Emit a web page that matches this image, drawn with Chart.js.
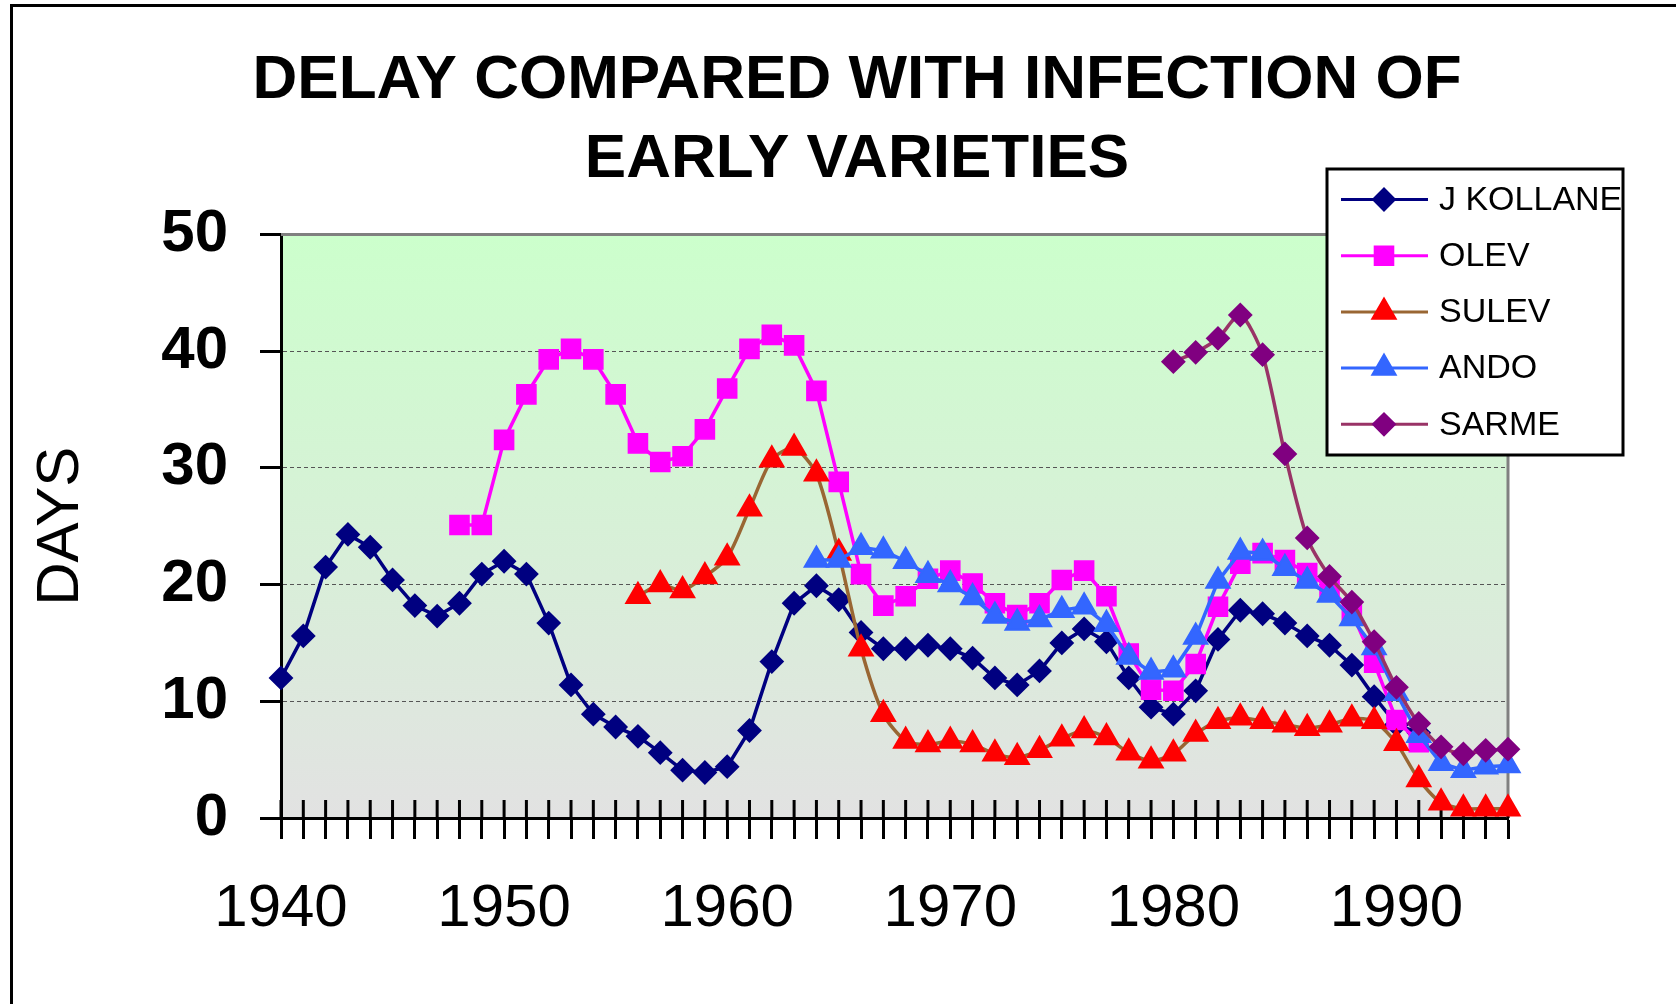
<!DOCTYPE html>
<html>
<head>
<meta charset="utf-8">
<title>Delay compared with infection of early varieties</title>
<script src="https://cdn.jsdelivr.net/npm/chart.js@4.4.1/dist/chart.umd.min.js"></script>
<style>
html, body { margin: 0; padding: 0; background: #fff; overflow: hidden; width: 1676px; height: 1004px; }
#frame { position: absolute; left: 10px; top: 4px; width: 1694px; height: 1006px; border: 3px solid #000; box-sizing: border-box; }
#frame canvas { display: block; }
</style>
</head>
<body>
<div id="frame"><canvas id="delayChart" width="1688" height="1000"></canvas></div>
<script>
var years = ['1940','1941','1942','1943','1944','1945','1946','1947','1948','1949',
             '1950','1951','1952','1953','1954','1955','1956','1957','1958','1959',
             '1960','1961','1962','1963','1964','1965','1966','1967','1968','1969',
             '1970','1971','1972','1973','1974','1975','1976','1977','1978','1979',
             '1980','1981','1982','1983','1984','1985','1986','1987','1988','1989',
             '1990','1991','1992','1993','1994','1995'];

var jKollane = [12.0, 15.6, 21.5, 24.3, 23.2, 20.4, 18.2, 17.3, 18.4, 20.9,
                22.0, 20.9, 16.7, 11.4, 8.9, 7.8, 7.0, 5.6, 4.1, 3.9,
                4.4, 7.5, 13.4, 18.4, 19.9, 18.7, 15.9, 14.5, 14.5, 14.8,
                14.5, 13.7, 12.0, 11.4, 12.6, 15.0, 16.2, 15.1, 12.0, 9.5,
                8.9, 10.9, 15.3, 17.8, 17.5, 16.7, 15.6, 14.8, 13.1, 10.4,
                8.0, 7.3, null, null, null, null];

var olev = [null, null, null, null, null, null, null, null, 25.1, 25.1,
            32.4, 36.3, 39.3, 40.2, 39.3, 36.3, 32.1, 30.5, 31.0, 33.3,
            36.8, 40.2, 41.4, 40.5, 36.6, 28.8, 20.9, 18.2, 19.0, 20.5,
            21.2, 20.1, 18.4, 17.4, 18.4, 20.4, 21.2, 19.0, 14.1, 11.0,
            10.9, 13.2, 18.1, 21.8, 22.7, 22.1, 21.0, 19.8, 17.6, 13.3,
            8.4, 6.5, null, null, null, null];

var sulev = [null, null, null, null, null, null, null, null, null, null,
             null, null, null, null, null, null, 19.0, 20.0, 19.5, 20.7,
             22.3, 26.5, 30.7, 31.7, 29.5, 22.7, 14.5, 8.9, 6.6, 6.3,
             6.6, 6.3, 5.5, 5.2, 5.8, 6.8, 7.5, 6.9, 5.6, 4.9,
             5.5, 7.2, 8.3, 8.6, 8.3, 8.0, 7.7, 8.0, 8.5, 8.3,
             6.4, 3.3, 1.3, 0.8, 0.8, 0.8];

var ando = [null, null, null, null, null, null, null, null, null, null,
            null, null, null, null, null, null, null, null, null, null,
            null, null, null, null, 22.1, 22.1, 23.2, 22.9, 22.0, 20.8,
            20.0, 18.9, 17.3, 16.7, 17.0, 17.8, 18.1, 16.6, 13.8, 12.5,
            12.7, 15.5, 20.3, 22.8, 22.7, 21.4, 20.3, 19.1, 17.1, 14.6,
            10.7, 7.1, 4.7, 4.1, 4.4, 4.5];

var sarme = [null, null, null, null, null, null, null, null, null, null,
             null, null, null, null, null, null, null, null, null, null,
             null, null, null, null, null, null, null, null, null, null,
             null, null, null, null, null, null, null, null, null, null,
             39.1, 39.9, 41.1, 43.1, 39.7, 31.2, 24.0, 20.7, 18.5, 15.1,
             11.2, 8.1, 6.1, 5.5, 5.8, 5.9];

var fontFamily = '"Liberation Sans", Arial, Helvetica, sans-serif';
Chart.defaults.font.family = fontFamily;
Chart.defaults.color = '#000';

function drawMarker(ctx, ds, x, y) {
    ctx.fillStyle = ds.pointBackgroundColor;
    ctx.strokeStyle = ds.pointBorderColor;
    ctx.lineWidth = ds.pointBorderWidth;
    Chart.helpers.drawPoint(ctx, {
        pointStyle: ds.pointStyle,
        radius: ds.pointRadius,
        borderWidth: ds.pointBorderWidth,
        rotation: 0
    }, x, y);
}

// green to grey plot fill, grey frame on top/right, tick marks crossing the x axis
var plotDecor = {
    id: 'plotDecor',
    beforeDraw: function(chart) {
        var a = chart.chartArea, ctx = chart.ctx;
        var g = ctx.createLinearGradient(0, a.top, 0, a.bottom);
        g.addColorStop(0, '#ccffcc');
        g.addColorStop(1, '#e2e2e2');
        ctx.save();
        ctx.fillStyle = g;
        ctx.fillRect(a.left, a.top, a.right - a.left, a.bottom - a.top);
        ctx.restore();
    },
    beforeDatasetsDraw: function(chart) {
        var a = chart.chartArea, ctx = chart.ctx, xs = chart.scales.x;
        ctx.save();
        ctx.strokeStyle = '#808080';
        ctx.lineWidth = 3;
        ctx.beginPath();
        ctx.moveTo(a.left, a.top);
        ctx.lineTo(a.right, a.top);
        ctx.lineTo(a.right, a.bottom);
        ctx.stroke();
        ctx.strokeStyle = '#000';
        ctx.beginPath();
        for (var i = 0; i < xs.ticks.length; i++) {
            var px = xs.getPixelForTick(i);
            ctx.moveTo(px, a.bottom);
            ctx.lineTo(px, a.bottom - 18);
        }
        ctx.stroke();
        ctx.restore();
    }
};

// boxed legend sitting over the top right corner of the plot
var boxLegend = {
    id: 'boxLegend',
    afterDraw: function(chart) {
        var ctx = chart.ctx;
        ctx.save();
        ctx.fillStyle = '#fff';
        ctx.fillRect(1314, 162, 296, 286);
        ctx.strokeStyle = '#000';
        ctx.lineWidth = 3;
        ctx.strokeRect(1314, 162, 296, 286);
        chart.data.datasets.forEach(function(ds, i) {
            var y = 192.5 + i * 56.2;
            ctx.strokeStyle = ds.borderColor;
            ctx.lineWidth = 3;
            ctx.beginPath();
            ctx.moveTo(1328, y);
            ctx.lineTo(1415, y);
            ctx.stroke();
            drawMarker(ctx, ds, 1371, y);
            ctx.fillStyle = '#000';
            ctx.font = '34px ' + fontFamily;
            ctx.textAlign = 'left';
            ctx.textBaseline = 'middle';
            ctx.fillText(ds.label, 1426, y + 1);
        });
        ctx.restore();
    }
};

var ctx = document.getElementById('delayChart').getContext('2d');
var delayChart = new Chart(ctx, {
    type: 'line',
    data: {
        labels: years,
        datasets: [
            {
                label: 'J KOLLANE',
                data: jKollane,
                borderColor: '#000080',
                borderWidth: 3.5,
                tension: 0,
                pointStyle: 'rectRot',
                pointRadius: 11,
                pointBorderWidth: 2,
                pointBackgroundColor: '#000080',
                pointBorderColor: '#000080',
                order: 5
            },
            {
                label: 'OLEV',
                data: olev,
                borderColor: '#ff00ff',
                borderWidth: 3.5,
                tension: 0,
                pointStyle: 'rect',
                pointRadius: 13.5,
                pointBorderWidth: 1.5,
                pointBackgroundColor: '#ff00ff',
                pointBorderColor: '#ff00ff',
                order: 4
            },
            {
                label: 'SULEV',
                data: sulev,
                borderColor: '#996633',
                borderWidth: 3.5,
                tension: 0.25,
                pointStyle: 'triangle',
                pointRadius: 13.5,
                pointBorderWidth: 2,
                pointBackgroundColor: '#ff0000',
                pointBorderColor: '#ff0000',
                order: 3
            },
            {
                label: 'ANDO',
                data: ando,
                borderColor: '#3366ff',
                borderWidth: 3.5,
                tension: 0,
                pointStyle: 'triangle',
                pointRadius: 13.5,
                pointBorderWidth: 2,
                pointBackgroundColor: '#3366ff',
                pointBorderColor: '#3366ff',
                order: 2
            },
            {
                label: 'SARME',
                data: sarme,
                borderColor: '#993366',
                borderWidth: 3.5,
                tension: 0.25,
                pointStyle: 'rectRot',
                pointRadius: 11,
                pointBorderWidth: 2,
                pointBackgroundColor: '#800080',
                pointBorderColor: '#800080',
                order: 1
            }
        ]
    },
    options: {
        responsive: false,
        animation: false,
        events: [],
        clip: false,
        layout: { padding: { left: 0, right: 0, top: 0, bottom: 0 } },
        scales: {
            x: {
                ticks: {
                    autoSkip: false,
                    maxRotation: 0,
                    minRotation: 0,
                    padding: 34,
                    color: '#000',
                    font: { size: 60 },
                    callback: function(value) {
                        var lab = this.getLabelForValue(value);
                        return Number(lab) % 10 === 0 ? lab : '';
                    }
                },
                grid: { drawOnChartArea: false, tickColor: '#000', tickWidth: 3, tickLength: 21 },
                border: { color: '#000', width: 3 },
                afterFit: function(scale) { scale.height = 189; }
            },
            y: {
                min: 0,
                max: 50,
                ticks: { stepSize: 10, padding: 32, color: '#000', font: { size: 60, weight: 'bold' } },
                grid: { color: '#555', lineWidth: 1, tickColor: '#000', tickWidth: 3, tickLength: 21, tickBorderDash: [] },
                border: { color: '#000', width: 3, dash: [4, 3] },
                title: {
                    display: true,
                    text: 'DAYS',
                    color: '#000',
                    font: { size: 60 },
                    padding: { top: 12, bottom: 0 }
                },
                afterFit: function(scale) { scale.width = 268; }
            },
            yRight: {
                position: 'right',
                display: false,
                afterFit: function(scale) { scale.width = 193; }
            }
        },
        plugins: {
            legend: { display: false },
            tooltip: { enabled: false },
            title: {
                display: true,
                text: ['DELAY COMPARED WITH INFECTION OF', 'EARLY VARIETIES'],
                color: '#000',
                font: { size: 62, weight: 'bold', lineHeight: 1.27 },
                padding: { top: 35, bottom: 35 }
            }
        }
    },
    plugins: [plotDecor, boxLegend]
});
</script>
</body>
</html>
